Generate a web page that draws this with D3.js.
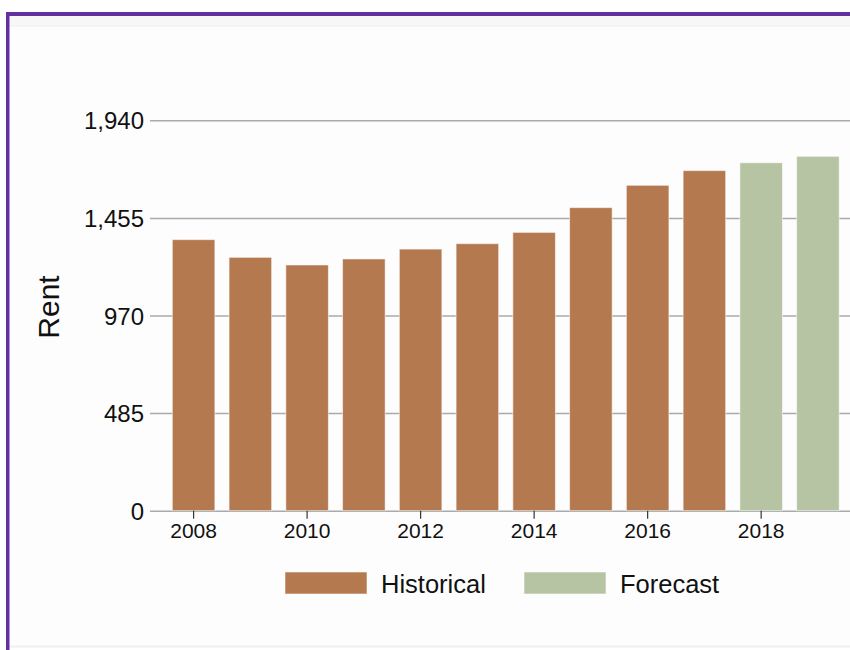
<!DOCTYPE html>
<html>
<head>
<meta charset="utf-8">
<script src="https://cdn.jsdelivr.net/npm/d3@7"></script>
<style>
  html, body { margin: 0; padding: 0; background: #ffffff; }
  svg { display: block; font-family: Helvetica, "Liberation Sans", Arial, sans-serif; }
</style>
</head>
<body>
<svg id="chart" width="850" height="650"></svg>
<script>
// Average rent by year: historical values followed by forecast values
const years = [2008, 2009, 2010, 2011, 2012, 2013, 2014, 2015, 2016, 2017, 2018, 2019];
const rent = [1347, 1259, 1221, 1251, 1300, 1327, 1383, 1506, 1617, 1690, 1729, 1761];
const kind = ["Historical", "Historical", "Historical", "Historical", "Historical", "Historical",
              "Historical", "Historical", "Historical", "Historical", "Forecast", "Forecast"];
const yTicks = [0, 485, 970, 1455, 1940];
const xTickYears = [2008, 2010, 2012, 2014, 2016, 2018];
const legendKeys = ["Historical", "Forecast"];
const legendColors = ["#b5794f", "#b6c4a3"];

const svg = d3.select("#chart");
const color = d3.scaleOrdinal().domain(legendKeys).range(legendColors);

// Card frame with purple accent on top and left
svg.append("rect").attr("x", 8).attr("y", 14).attr("width", 842).attr("height", 632)
  .attr("fill", "#fdfdfd");
svg.append("rect").attr("x", 8).attr("y", 16).attr("width", 842).attr("height", 10)
  .attr("fill", "#f7f7f7");
svg.append("line").attr("x1", 8).attr("x2", 850).attr("y1", 26).attr("y2", 26)
  .attr("stroke", "#eeeeee").attr("stroke-width", 1);
svg.append("line").attr("x1", 8).attr("x2", 850).attr("y1", 646.5).attr("y2", 646.5)
  .attr("stroke", "#f0f0f0").attr("stroke-width", 2);
svg.append("rect").attr("x", 6).attr("y", 12).attr("width", 844).attr("height", 4)
  .attr("fill", "#6330a0");
svg.append("rect").attr("x", 6).attr("y", 12).attr("width", 3.5).attr("height", 638)
  .attr("fill", "#6330a0");

const x = d3.scaleBand().domain(years).range([150, 861.5])
  .paddingInner(0.25).paddingOuter(0.393);
const y = d3.scaleLinear().domain([0, 1940]).range([510.7, 120.3]);

// Horizontal gridlines with value labels
const yAxis = svg.append("g").attr("transform", "translate(150,0)")
  .call(d3.axisLeft(y).tickValues(yTicks).tickFormat(d3.format(",")).tickSize(0).tickPadding(6));
yAxis.select(".domain").remove();
yAxis.selectAll("text").attr("font-size", 24).attr("fill", "#111").attr("dy", "0.36em");
yAxis.selectAll(".tick line").attr("x2", 712).attr("stroke", "#aaaaaa").attr("stroke-width", 1.5);

// Bars
svg.append("g").selectAll("rect").data(years).join("rect")
  .attr("x", d => x(d))
  .attr("width", x.bandwidth())
  .attr("y", (d, i) => y(rent[i]))
  .attr("height", (d, i) => y(0) - y(rent[i]))
  .attr("fill", (d, i) => color(kind[i]))
  .attr("stroke", "#ffffff").attr("stroke-opacity", 0.55).attr("stroke-width", 1);

// Year axis
const xAxis = svg.append("g").attr("transform", `translate(0,${y(0)})`)
  .call(d3.axisBottom(x).tickValues(xTickYears).tickSize(8).tickPadding(4));
xAxis.select(".domain").remove();
xAxis.selectAll(".tick line").attr("stroke", "#333").attr("stroke-width", 1.2);
xAxis.selectAll("text").attr("font-size", 21).attr("fill", "#111");

// Axis title
svg.append("text")
  .attr("transform", "translate(59,307) rotate(-90)")
  .attr("text-anchor", "middle")
  .attr("font-size", 30).attr("fill", "#111")
  .text("Rent");

// Legend
const legendPos = [285, 524];
const lg = svg.append("g").selectAll("g").data(legendKeys).join("g")
  .attr("transform", (d, i) => `translate(${legendPos[i]},572)`);
lg.append("rect").attr("width", 82).attr("height", 22)
  .attr("fill", d => color(d)).attr("stroke", "#ffffff").attr("stroke-opacity", 0.55);
lg.append("text").attr("x", 96).attr("y", 21)
  .attr("font-size", 25.5).attr("fill", "#111")
  .text(d => d);
</script>
</body>
</html>
